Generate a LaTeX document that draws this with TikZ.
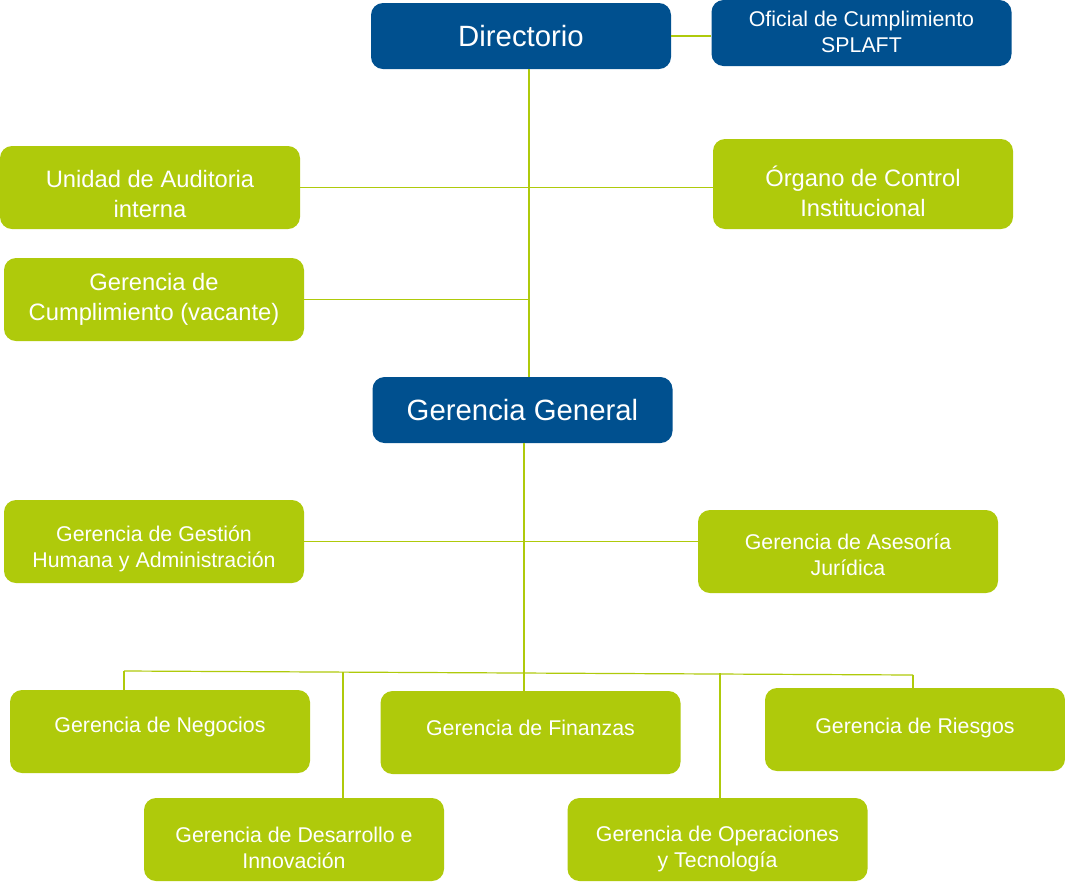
\documentclass[tikz,border=0pt]{standalone}
\usepackage{fontspec}
\setmainfont{Liberation Sans}
\definecolor{dblue}{HTML}{00508F}
\definecolor{lgreen}{HTML}{AFCA0B}
\begin{document}
\begin{tikzpicture}[x=0.75pt,y=-0.75pt,
  box/.style={rectangle, rounded corners=9pt, inner sep=0pt, align=center, text=white,
    minimum width=225pt, minimum height=62.25pt},
  bbox/.style={box, fill=dblue, minimum height=49.5pt},
  gbox/.style={box, fill=lgreen},
  every label/.style={align=center, text=white, inner sep=0pt},
  big/.style={font=\fontsize{22}{26}\selectfont},
  med/.style={font=\fontsize{17.8}{22.5}\selectfont},
  sml/.style={font=\fontsize{16}{19.5}\selectfont},
  conn/.style={draw=lgreen, line width=0.9pt}]
\useasboundingbox (0,0) rectangle (1065,883);
% top
\node[bbox, big] (dir) at (521,36) {Directorio};
\node[bbox, label={[sml, yshift=1pt]center:{Oficial de Cumplimiento\\SPLAFT}}] (ofi) at (861.5,33) {};
\node[gbox, label={[med, yshift=-5.25pt]center:{Unidad de Auditoria\\interna}}] (uni) at (150,187.5) {};
\node[gbox, minimum height=67.5pt, label={[med, yshift=-5.25pt]center:{Órgano de Control\\Institucional}}] (org) at (863,184) {};
\node[gbox, med] (cum) at (154,299.5) {Gerencia de\\Cumplimiento (vacante)};
\node[bbox, big] (gg) at (522.5,410) {Gerencia General};
\node[gbox, label={[sml, yshift=-5.25pt]center:{Gerencia de Gestión\\Humana y Administración}}] (gha) at (154,541.5) {};
\node[gbox, label={[sml, yshift=-2.25pt]center:{Gerencia de Asesoría\\Jurídica}}] (ase) at (848,551.5) {};
\node[gbox, label={[sml, yshift=3.75pt]center:{Gerencia de Negocios}}] (neg) at (160,731.5) {};
\node[gbox, label={[sml, yshift=3.75pt]center:{Gerencia de Finanzas}}] (fin) at (530.5,732.5) {};
\node[gbox, label={[sml, yshift=1pt]center:{Gerencia de Riesgos}}] (rie) at (915,729.5) {};
\node[gbox, label={[sml, yshift=-6pt]center:{Gerencia de Desarrollo e\\Innovación}}] (des) at (294,839.5) {};
\node[gbox, label={[sml, yshift=-6.75pt]center:{Gerencia de Operaciones\\y Tecnología}}] (ope) at (717.5,839.5) {};
% connectors
\coordinate (v1) at (529,100);
\draw[conn] (dir.east) -- (dir.east -| ofi.west);
\draw[conn] (v1 |- dir.south) -- (v1 |- gg.north);
\draw[conn] (uni.east) -- (uni.east -| org.west);
\draw[conn] (cum.east) -- (cum.east -| v1);
\coordinate (v2) at (524,500);
\draw[conn] (v2 |- gg.south) -- (v2 |- fin.north);
\draw[conn] (gha.east) -- (gha.east -| ase.west);
\coordinate (bl) at (124,671);
\coordinate (d1) at (343,672);
\coordinate (o1) at (720,673);
\coordinate (br) at (913,675);
\draw[conn] (bl) -- (br);
\draw[conn] (bl) -- (bl |- neg.north);
\draw[conn] (d1) -- (d1 |- des.north);
\draw[conn] (o1) -- (o1 |- ope.north);
\draw[conn] (br) -- (br |- rie.north);
\end{tikzpicture}
\end{document}
